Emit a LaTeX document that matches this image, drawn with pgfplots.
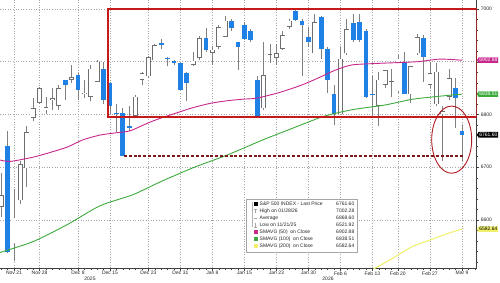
\documentclass[border=0pt]{standalone}
\usepackage{pgfplots}
\pgfplotsset{compat=1.18}
\usepackage{pgfplotstable}
\usepackage{fontspec}
\setmainfont{Liberation Sans}
\usetikzlibrary{shapes.symbols}
\definecolor{cblue}{HTML}{1F80E6}
\definecolor{wick}{HTML}{808080}
\definecolor{outl}{HTML}{6E6E6E}
\definecolor{sma50}{HTML}{C8288C}
\definecolor{sma100}{HTML}{3DAA3D}
\definecolor{sma200}{HTML}{F0F06A}
\definecolor{boxred}{HTML}{C41A1A}
\definecolor{dashred}{HTML}{7A1A1A}
\definecolor{ellred}{HTML}{B01C24}
\pgfplotstableread{
i o h l c
-2 6625 6690 6606 6647
-1 6741 6769 6537 6540
0 6556 6659 6522 6604
1 6637 6712 6630 6706
2 6698 6778 6662 6766
3 6794 6831 6787 6812
4 6822 6853 6820 6850
5 6808 6834 6800 6814
6 6828 6850 6809 6831
7 6816 6856 6809 6850
8 6866 6866 6828 6856
9 6866 6894 6860 6871
10 6875 6878 6828 6847
11 6838 6866 6832 6841
12 6834 6894 6825 6887
13 6862 6903 6862 6900
14 6887 6900 6819 6828
15 6859 6862 6800 6816
16 6802 6819 6766 6800
17 6803 6812 6721 6722
18 6779 6816 6769 6775
19 6797 6837 6797 6834
20 6866 6881 6856 6878
21 6872 6911 6870 6909
22 6903 6934 6903 6931
23 6936 6944 6925 6931
24 6906 6909 6891 6905
25 6901 6903 6893 6897
26 6897 6900 6847 6847
27 6878 6881 6825 6859
28 6894 6919 6891 6902
29 6907 6948 6903 6945
30 6945 6964 6919 6923
31 6917 6929 6894 6923
32 6928 6969 6925 6966
33 6947 6987 6947 6978
34 6977 6981 6959 6964
35 6937 6937 6884 6928
36 6969 6975 6941 6944
37 6959 6962 6937 6941
38 6866 6872 6794 6797
39 6812 6937 6809 6875
40 6912 6934 6897 6914
41 6908 6934 6894 6916
42 6925 6959 6922 6950
43 6966 6981 6962 6978
44 6997 7002 6978 6979
45 6977 6981 6872 6969
46 6946 6966 6928 6938
47 6916 6991 6916 6975
48 6984 6987 6905 6925
49 6925 6928 6841 6866
50 6838 6856 6781 6800
51 6800 6928 6800 6906
52 6916 6981 6912 6962
53 6973 6991 6938 6941
54 6975 6991 6938 6941
55 6959 6962 6831 6834
56 6838 6872 6797 6836
57 6816 6881 6778 6866
58 6856 6884 6850 6884
59 6862 6887 6834 6863
60 6844 6912 6841 6906
61 6900 6919 6838 6838
62 6838 6891 6822 6891
63 6916 6953 6912 6947
64 6945 6950 6862 6909
65 6856 6900 6850 6878
66 6819 6897 6816 6881
67 6800 6816 6712 6806
68 6834 6887 6828 6869
69 6850 6869 6775 6831
70 6769 6781 6712 6761.6
}\candles
\begin{document}
\begin{tikzpicture}
\useasboundingbox (0,0) rectangle (500pt,282pt);
\fill[white] (0,0) rectangle (500pt,282pt);
\begin{axis}[
 at={(0pt,14pt)}, anchor=south west,
 scale only axis, width=476.7pt, height=268pt,
 xmin=-2.19, xmax=72.3, ymin=6509, ymax=7017,
 axis x line*=bottom, axis y line*=right,
 axis line style={black!75, line width=0.5pt},
 tick align=outside,
 major tick length=2.5pt, minor tick length=1.5pt,
 every tick/.style={black!75, line width=0.4pt},
 xtick={0,4,10,15,21,26,31,36,41,46,51,56,60,65,70},
 xticklabels={Nov 21,Nov 28,Dec 8,Dec 15,Dec 23,Dec 31,Jan 8,Jan 15,Jan 23,Jan 30,Feb 6,Feb 13,Feb 20,Feb 27,Mar 9},
 minor xtick={-2,-1,...,72},
 ytick={6600,6700,6800,6900,7000},
 yticklabels={6600,6700,6800,,7000},
 minor ytick={6520,6540,...,7000},
 grid=major,
 major grid style={gray!70, dash pattern=on 0.8pt off 1.8pt, line width=0.55pt},
 ticklabel style={font=\fontsize{5}{6}\selectfont, text=black!85},
 xticklabel style={inner sep=0pt, yshift=-0.8pt},
 yticklabel style={inner sep=0pt, xshift=1.5pt},
 clip mode=individual,
]
% wicks
\addplot[draw=none, mark=none, forget plot, error bars/.cd, y dir=plus, y explicit, error mark=none,
  error bar style={draw=wick, line width=0.75pt}]
  table[x=i, y=l, y error expr=\thisrow{h}-\thisrow{l}] {\candles};
% down candles (blue)
\addplot[draw=none, mark=none, forget plot, restrict expr to domain={\thisrow{o}-\thisrow{c}}{0.001:1000},
  error bars/.cd, y dir=plus, y explicit, error mark=none,
  error bar style={draw=cblue, line width=4.8pt}]
  table[x=i, y=c, y error expr={max(\thisrow{o}-\thisrow{c},2)}] {\candles};
% up candles (hollow): outline
\addplot[draw=none, mark=none, forget plot, restrict expr to domain={\thisrow{c}-\thisrow{o}}{0:1000},
  error bars/.cd, y dir=plus, y explicit, error mark=none,
  error bar style={draw=outl, line width=4.8pt}]
  table[x=i, y=o, y error expr={max(\thisrow{c}-\thisrow{o},2)}] {\candles};
% up candles (hollow): inside
\addplot[draw=none, mark=none, forget plot, restrict expr to domain={\thisrow{c}-\thisrow{o}}{2.4:1000},
  error bars/.cd, y dir=plus, y explicit, error mark=none,
  error bar style={draw=white, line width=3.5pt}]
  table[x=i, y expr=\thisrow{o}+1.14, y error expr={\thisrow{c}-\thisrow{o}-2.28}] {\candles};
% moving averages
\addplot[sma50, line width=0.9pt, smooth, tension=0.4, mark=none] coordinates {
(-2.3,6714) (-0.63,6711) (2.97,6719) (5.63,6728) (8.28,6738) (10.78,6752) (13.44,6761) (15.78,6765) (18.13,6769) (20.94,6784) (23.13,6794) (25.16,6802) (27.97,6813) (30.63,6821) (33.28,6826) (35.78,6829) (37.97,6831) (41.56,6842) (45,6856) (47.5,6869) (50.2,6884) (52.81,6894) (57.19,6897) (62.97,6900) (66.56,6905) (70,6902.88)};
\addplot[sma100, line width=0.9pt, smooth, tension=0.4, mark=none] coordinates {
(-2.3,6538) (2.97,6559) (8.28,6591) (13.44,6627) (18.59,6648) (22.81,6672) (27.97,6699) (33.28,6723) (38.91,6752) (43.13,6772) (48.28,6796) (52.81,6809) (57.97,6818) (62.34,6829) (67.66,6836) (70,6838.51)};
\addplot[sma200, line width=1pt, smooth, tension=0.4, mark=none] coordinates {
(55.6,6503) (59.5,6530) (62.3,6550) (65,6562) (67.66,6574) (70,6582.64)};
% annotations
\addplot[boxred, line width=1.8pt, mark=none, forget plot] coordinates {(14.64,6795) (72.3,6795) (72.3,7000.4) (14.64,7000.4) (14.64,6795)} -- cycle;
\addplot[dashred, line width=1.2pt, mark=none, forget plot, dash pattern=on 3pt off 1.8pt] coordinates {(17.2,6721.43) (70.1,6721.43)};
\draw[ellred, line width=0.9pt] (axis cs:68.39,6752.3) ellipse [x radius=20pt, y radius=33.6pt];
% right tags
\begin{scope}[every node/.style={signal, signal to=west, signal pointer angle=120, inner xsep=0.8pt, inner ysep=1pt, anchor=west, font=\fontsize{5}{6}\selectfont}]
\node[fill=sma50, text=white] at (axis cs:72.3,6902.88) {6902.88};
\node[fill=sma100, text=white] at (axis cs:72.3,6838.51) {6838.51};
\node[fill=black, text=white] at (axis cs:72.3,6761.60) {6761.60};
\node[fill=sma200, text=black] at (axis cs:72.3,6582.64) {6582.64};
\end{scope}
\end{axis}
% year labels
\node[font=\fontsize{5}{6}\selectfont, text=black!85] at (90pt,3.7pt) {2025};
\node[font=\fontsize{5}{6}\selectfont, text=black!85] at (328pt,3.7pt) {2026};
% legend
\begin{scope}[font=\fontsize{5}{6}\selectfont]
\fill[gray!40] (247.2pt,28.8pt) rectangle (358.2pt,82pt);
\draw[gray!70, fill=white, line width=0.6pt] (246pt,30pt) rectangle (357pt,83pt);
\draw[gray!60, line width=0.4pt] (252pt,80pt) -- (252pt,55pt);
\fill[black] (253.5pt,76pt) rectangle (257.5pt,80pt);
\draw[gray!70, line width=0.5pt] (255.5pt,69pt) -- (255.5pt,73pt) (254.3pt,73pt) -- (256.7pt,73pt);
\draw[gray!70, line width=0.5pt] (254.3pt,64pt) -- (256.7pt,64pt);
\draw[gray!70, line width=0.5pt] (255.5pt,55pt) -- (255.5pt,59pt) (254.3pt,55pt) -- (256.7pt,55pt);
\fill[sma50] (253.5pt,48pt) rectangle (257.5pt,52pt);
\fill[sma100] (253.5pt,41pt) rectangle (257.5pt,45pt);
\fill[sma200] (253.5pt,34pt) rectangle (257.5pt,38pt);
\foreach \y/\t/\v in {78/{S\&P 500 INDEX - Last Price}/6761.60, 71/{High on 01/28/26}/7002.28, 64/{Average}/6868.60, 57/{Low on 11/21/25}/6521.92, 50/{SMAVG (50)\ \ on Close}/6902.88, 43/{SMAVG (100)\ \ on Close}/6838.51, 36/{SMAVG (200)\ \ on Close}/6582.64}{
  \node[anchor=west, inner sep=0pt, text=black!85] at (259.5pt,\y pt) {\t};
  \node[anchor=east, inner sep=0pt, text=black!85] at (354.5pt,\y pt) {\v};
}
\end{scope}
\end{tikzpicture}
\end{document}
